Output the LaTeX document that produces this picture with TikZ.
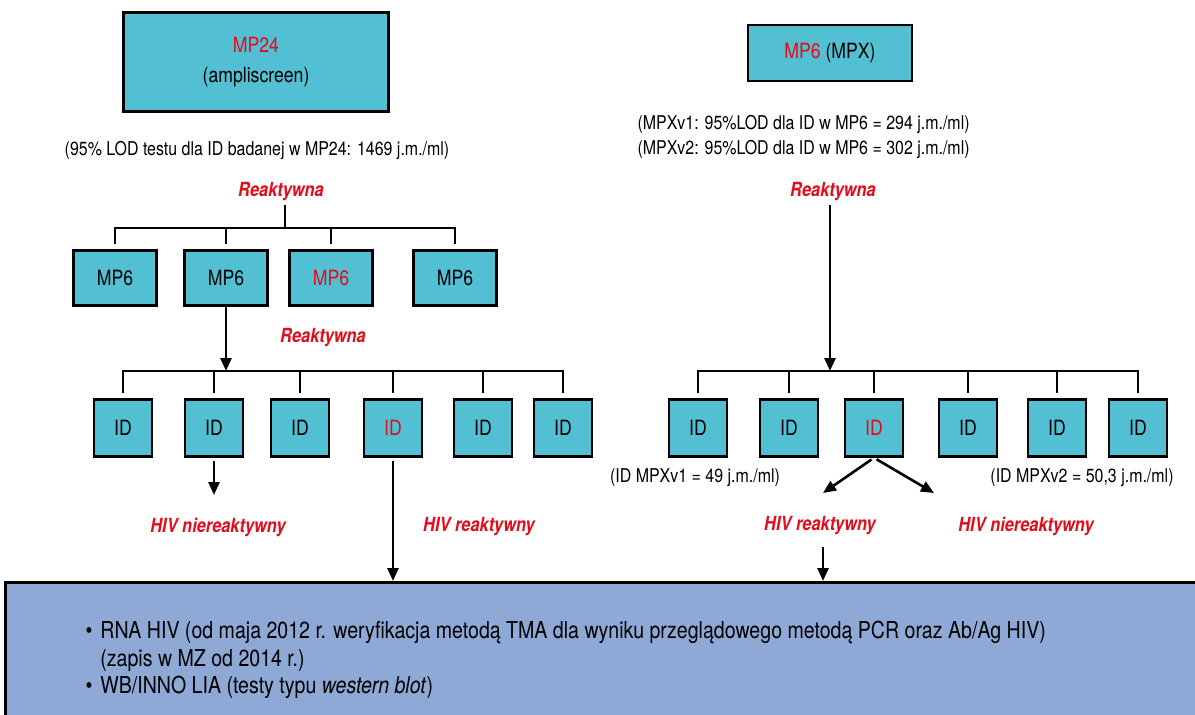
\documentclass[tikz,border=0pt]{standalone}
\usepackage{fontspec}
\setmainfont{TeX Gyre Heros}[FakeStretch=0.84]
\usetikzlibrary{arrows.meta,positioning,calc}
\definecolor{boxcyan}{RGB}{82,191,211}
\definecolor{hivred}{RGB}{226,12,26}
\definecolor{infoblue}{RGB}{142,169,214}

\begin{document}
\begin{tikzpicture}[x=1pt,y=-1pt,
  mpbox/.style={draw=black,fill=boxcyan,line width=2.5pt,inner sep=0pt,font=\fontsize{21}{24}\selectfont},
  poolbox/.style={mpbox,minimum width=83pt,minimum height=55pt},
  idbox/.style={mpbox,minimum width=58pt,minimum height=57pt},
  verdict/.style={text=hivred,font=\fontsize{19.5}{22}\selectfont\bfseries\itshape},
  note/.style={font=\fontsize{19}{25}\selectfont},
  conn/.style={line width=2.6pt},
  arr/.style={conn,-{Triangle[length=13pt,width=11pt]}},
  drop/.style={conn,shorten >=5pt}]
\useasboundingbox (0,0) rectangle (1195,715);

\node[draw=black,fill=infoblue,line width=2.5pt,minimum width=1210pt,minimum height=150pt,anchor=north west] (info) at (4,581) {};
\node[anchor=north west,align=left,font=\fontsize{23.3}{27.5}\selectfont] (bul) at (82,618) {%
\textbullet\hspace{8pt}RNA HIV (od maja 2012 r. weryfikacja metodą TMA dla wyniku przeglądowego metodą PCR oraz Ab/Ag HIV)\\
\hphantom{\textbullet\hspace{8pt}}(zapis w MZ od 2014 r.)\\
\textbullet\hspace{8pt}WB/INNO LIA (testy typu \textit{western blot})};

\node[mpbox,minimum width=265pt,minimum height=99pt,align=center,font=\fontsize{21}{30}\selectfont] (mp24) at (256,62) {\raisebox{-3pt}{\textcolor{hivred}{MP24}}\\\raisebox{-3pt}{(ampliscreen)}};
\node[note] (lod24) at (257,150) {(95\% LOD testu dla ID badanej w MP24: 1469 j.m./ml)};
\node[verdict] (re1) at (281,192) {Reaktywna};
\coordinate (j1) at (285,228);
\foreach \x/\n/\c in {115/a/black,226/b/black,331/c/hivred,455/d/black}
  \node[poolbox,text=\c] (mp\n) at (\x,278) {MP6};
\draw[conn] (re1.south -| j1) -- (j1);
\draw[drop] (j1) -| (mpa.north);
\draw[drop] (j1) -| (mpd.north);
\foreach \n in {b,c}
  \draw[drop] (mp\n.north |- j1) -- (mp\n.north);

\node[verdict] (re2) at (323,338) {Reaktywna};
\coordinate (j2) at (226,371);
\foreach \x/\n/\c in {123/a/black,214/b/black,300/c/black,393/d/hivred,483/e/black,563/f/black}
  \node[idbox,text=\c] (id\n) at (\x,428) {ID};
\draw[arr] (mpb.south) -- (j2);
\draw[drop] (j2) -| (ida.north);
\draw[drop] (j2) -| (idf.north);
\foreach \n in {b,c,d,e}
  \draw[drop] (id\n.north |- j2) -- (id\n.north);
\coordinate (e1) at (214,495);
\draw[arr,shorten <=3pt] (idb.south) -- (e1);
\draw[arr,shorten <=3pt] (idd.south) -- (idd.south |- info.north);
\node[verdict] (hn1) at (218,527) {HIV niereaktywny};
\node[verdict] (hr1) at (479,527) {HIV reaktywny};

\node[mpbox,minimum width=164pt,minimum height=56pt] (mpx) at (830,53) {\textcolor{hivred}{MP6} (MPX)};
\node[note,anchor=west,align=left] (lodx) at (634,137) {(MPXv1: 95\%LOD dla ID w MP6 = 294 j.m./ml)\\(MPXv2: 95\%LOD dla ID w MP6 = 302 j.m./ml)};
\node[verdict] (re3) at (833,192) {Reaktywna};
\coordinate (j3) at (830,371);
\draw[arr] (re3.south -| j3) -- (j3);
\foreach \x/\n/\c in {698/g/black,789/h/black,874/i/hivred,968/j/black,1057/k/black,1138/l/black}
  \node[idbox,text=\c] (id\n) at (\x,428) {ID};
\draw[drop] (j3) -| (idg.north);
\draw[drop] (j3) -| (idl.north);
\foreach \n in {h,i,j,k}
  \draw[drop] (id\n.north |- j3) -- (id\n.north);
\node[note] (v1) at (695,478) {(ID MPXv1 = 49 j.m./ml)};
\node[note] (v2) at (1082,478) {(ID MPXv2 = 50,3 j.m./ml)};
\coordinate (e2) at (823,493);
\coordinate (e3) at (934,493);
\draw[arr,shorten <=3pt] (idi.south) -- (e2);
\draw[arr,shorten <=3pt] (idi.south) -- (e3);
\node[verdict] (hr2) at (820,526) {HIV reaktywny};
\node[verdict] (hn2) at (1026,526) {HIV niereaktywny};
\draw[arr,shorten <=8pt] (e2 |- hr2.south) -- (e2 |- info.north);
\end{tikzpicture}
\end{document}
